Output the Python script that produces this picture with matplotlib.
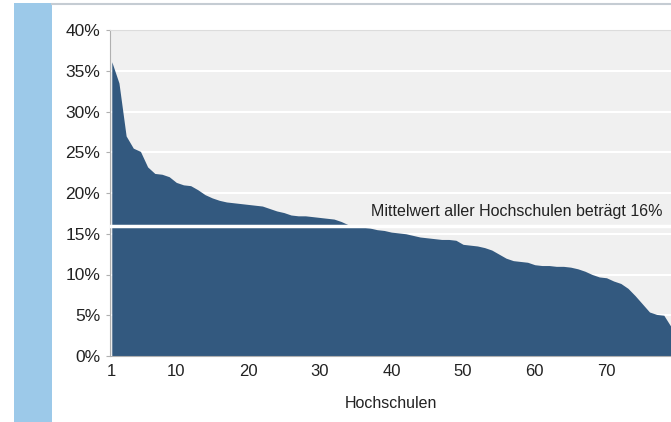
import matplotlib.pyplot as plt
import matplotlib.patches as patches
from matplotlib.ticker import FuncFormatter

# Anteil je Hochschule, absteigend sortiert (in %)
hochschule = list(range(1, 80))
anteil = [36.1, 33.5, 27.0, 25.5, 25.1, 23.2, 22.4, 22.3, 22.0, 21.3,
          21.0, 20.9, 20.4, 19.8, 19.4, 19.1, 18.9, 18.8, 18.7, 18.6,
          18.5, 18.4, 18.1, 17.8, 17.6, 17.3, 17.2, 17.2, 17.1, 17.0,
          16.9, 16.8, 16.5, 16.1, 15.9, 15.8, 15.7, 15.5, 15.4, 15.2,
          15.1, 15.0, 14.8, 14.6, 14.5, 14.4, 14.3, 14.3, 14.2, 13.7,
          13.6, 13.5, 13.3, 13.0, 12.5, 12.0, 11.7, 11.6, 11.5, 11.2,
          11.1, 11.1, 11.0, 11.0, 10.9, 10.7, 10.4, 10.0, 9.7, 9.6,
          9.2, 8.9, 8.3, 7.4, 6.4, 5.4, 5.1, 5.0, 3.6]
mittelwert = 16
x_ticks = [1, 10, 20, 30, 40, 50, 60, 70]
y_ticks = [0, 5, 10, 15, 20, 25, 30, 35, 40]

plt.rcParams['font.family'] = ['Liberation Sans', 'DejaVu Sans']

fig = plt.figure(figsize=(6.71, 4.22), dpi=100)
fig.patch.set_facecolor('white')

# blauer Streifen links und Linie oben
fig.add_artist(patches.Rectangle((14 / 671, 0), 38 / 671, 1 - 3 / 422,
                                 transform=fig.transFigure, color='#9cc9e9', lw=0))
fig.add_artist(plt.Line2D([52 / 671, 1], [1 - 3.5 / 422] * 2,
                          transform=fig.transFigure, color='#c5ccd3', lw=1.5))

ax = fig.add_axes([110 / 671, 66 / 422, 561 / 671, 326 / 422])
ax.set_facecolor('#f0f0f0')

ax.fill_between(hochschule, anteil, 0, color='#33597f', lw=0, zorder=2)
ax.axhline(mittelwert, color='white', lw=2.5, zorder=3)
ax.text(77.8, 16.8, 'Mittelwert aller Hochschulen beträgt 16%',
        ha='right', va='bottom', fontsize=11.5, color='#222222', zorder=4)

ax.set_xlim(0.75, 79)
ax.set_ylim(0, 40)
ax.set_xticks(x_ticks)
ax.set_yticks(y_ticks)
ax.yaxis.set_major_formatter(FuncFormatter(lambda v, p: f'{v:.0f}%'))
ax.grid(axis='y', color='white', lw=1.5, zorder=1)
ax.set_axisbelow(True)

for s in ['left', 'bottom']:
    ax.spines[s].set_color('#b0b0b0')
ax.spines['top'].set_color('#dcdcdc')
ax.spines['right'].set_visible(False)
ax.tick_params(axis='y', length=3, color='#b0b0b0', labelsize=12.5,
               labelcolor='#222222', pad=4)
ax.tick_params(axis='x', length=0, labelsize=12, labelcolor='#222222', pad=6)
ax.set_xlabel('Hochschulen', fontsize=11.5, color='#222222', labelpad=12)

fig.savefig('out.png', dpi=100)
